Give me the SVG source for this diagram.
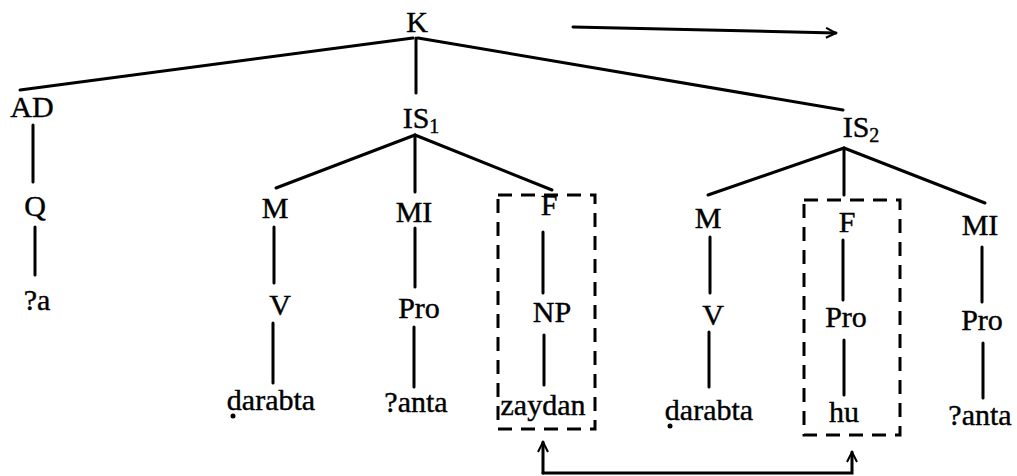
<svg xmlns="http://www.w3.org/2000/svg" width="1017" height="476" viewBox="0 0 1017 476">
<style>
text{font-family:"Liberation Serif","Times New Roman",serif;font-size:30px;fill:#000;stroke:#000;stroke-width:0.4;text-anchor:middle}
.sub{font-size:20px}
.e{stroke:#000;stroke-width:3;fill:none;stroke-linecap:round}
.box{stroke:#000;stroke-width:3;fill:none;stroke-dasharray:14 9}
</style>
<defs>
<marker id="open" viewBox="0 0 12 12" refX="11" refY="6" markerWidth="12" markerHeight="12" markerUnits="userSpaceOnUse" orient="auto">
<path d="M1,1 L11,6 L1,11" fill="none" stroke="#000" stroke-width="2"/>
</marker>
</defs>
<g id="connectors">
<line class="e" x1="413" y1="38" x2="20" y2="90"/>
<line class="e" x1="416" y1="38" x2="416" y2="93"/>
<line class="e" x1="418" y1="38" x2="843" y2="110"/>
<line class="e" x1="33" y1="125" x2="33" y2="182"/>
<line class="e" x1="35" y1="227" x2="35" y2="275"/>
<line class="e" x1="415" y1="135" x2="276" y2="188"/>
<line class="e" x1="415" y1="135" x2="415" y2="192"/>
<line class="e" x1="415" y1="135" x2="552" y2="190"/>
<line class="e" x1="274" y1="227" x2="274" y2="283"/>
<line class="e" x1="273" y1="323" x2="273" y2="383"/>
<line class="e" x1="415" y1="228" x2="415" y2="287"/>
<line class="e" x1="414" y1="327" x2="414" y2="387"/>
<line class="e" x1="543" y1="232" x2="543" y2="293"/>
<line class="e" x1="544" y1="335" x2="544" y2="385"/>
<line class="e" x1="844" y1="148" x2="708" y2="195"/>
<line class="e" x1="844" y1="148" x2="844" y2="195"/>
<line class="e" x1="844" y1="148" x2="985" y2="203"/>
<line class="e" x1="710" y1="237" x2="710" y2="293"/>
<line class="e" x1="709" y1="332" x2="709" y2="387"/>
<line class="e" x1="843" y1="240" x2="843" y2="300"/>
<line class="e" x1="844" y1="340" x2="844" y2="395"/>
<line class="e" x1="982" y1="247" x2="982" y2="302"/>
<line class="e" x1="983" y1="343" x2="983" y2="398"/>
<line class="e" x1="573" y1="27" x2="836" y2="33" marker-end="url(#open)" stroke-width="2"/>
<path class="e" d="M543,473 L852,473 L852,452" stroke-width="2.4" marker-end="url(#open)"/>
<line class="e" x1="543" y1="473" x2="543" y2="442" stroke-width="2.4" marker-end="url(#open)"/>
<rect class="box" x="498" y="195" width="97" height="234"/>
<rect class="box" x="804" y="200" width="96" height="235"/>
</g>
<g id="K"><text x="417" y="32">K</text></g>
<g id="AD"><text x="32" y="117">AD</text></g>
<g id="Q"><text x="35" y="216">Q</text></g>
<g id="a1"><text x="37" y="310">?a</text></g>
<g id="IS1"><text x="421" y="128">IS<tspan class="sub" dy="5">1</tspan></text></g>
<g id="M1"><text x="275" y="218">M</text></g>
<g id="V1"><text x="280" y="315">V</text></g>
<g id="darabta1"><text x="271" y="410">darabta</text><circle cx="233" cy="416" r="2.5"/></g>
<g id="MI1"><text x="414" y="222">MI</text></g>
<g id="Pro1"><text x="419" y="318">Pro</text></g>
<g id="anta1"><text x="416" y="412">?anta</text></g>
<g id="F1"><text x="549" y="215">F</text></g>
<g id="NP"><text x="552" y="322">NP</text></g>
<g id="zaydan"><text x="543" y="415">zaydan</text></g>
<g id="IS2"><text x="861" y="137">IS<tspan class="sub" dy="5">2</tspan></text></g>
<g id="M2"><text x="708" y="228">M</text></g>
<g id="V2"><text x="713" y="325">V</text></g>
<g id="darabta2"><text x="709" y="420">darabta</text><circle cx="670" cy="426" r="2.5"/></g>
<g id="F2"><text x="847" y="232">F</text></g>
<g id="Pro2"><text x="846" y="327">Pro</text></g>
<g id="hu"><text x="844" y="422">hu</text></g>
<g id="MI2"><text x="980" y="235">MI</text></g>
<g id="Pro3"><text x="982" y="330">Pro</text></g>
<g id="anta2"><text x="980" y="425">?anta</text></g>
</svg>
